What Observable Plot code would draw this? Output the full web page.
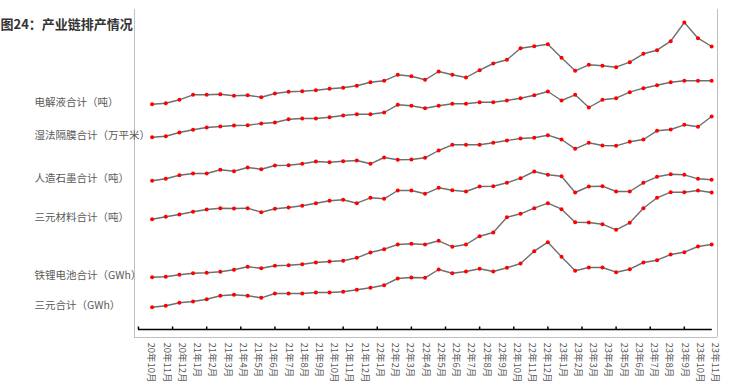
<!DOCTYPE html>
<html>
<head>
<meta charset="utf-8">
<script src="https://cdn.jsdelivr.net/npm/d3@7"></script>
<script src="https://cdn.jsdelivr.net/npm/@observablehq/plot@0.6"></script>
<style>
  body { margin: 0; background: #fff; }
  svg { display: block; }
</style>
</head>
<body>
<div id="chart"></div>
<script>
const title = "图24：产业链排产情况";

const monthLabels = [
  "20年10月","20年11月","20年12月","21年1月","21年2月","21年3月","21年4月","21年5月",
  "21年6月","21年7月","21年8月","21年9月","21年10月","21年11月","21年12月","22年1月",
  "22年2月","22年3月","22年4月","22年5月","22年6月","22年7月","22年8月","22年9月",
  "22年10月","22年11月","22年12月","23年1月","23年2月","23年3月","23年4月","23年5月",
  "23年6月","23年7月","23年8月","23年9月","23年10月","23年11月"
];

const seriesNames = [
  "电解液合计（吨）",
  "湿法隔膜合计（万平米）",
  "人造石墨合计（吨）",
  "三元材料合计（吨）",
  "铁锂电池合计（GWh）",
  "三元合计（GWh）"
];

// Relative (stacked, unitless) index levels
const electrolyte = [233.3,234.3,237.7,242.7,242.7,243.3,241.7,242.3,240.3,244,245.7,246.3,247.3,248.7,249.7,251.7,255.3,256.7,262.7,261.3,257.7,266,262.7,260,267.3,274,277.7,289.3,291.3,293.3,279.7,266.7,272.7,271.7,270.3,275.3,283.7,287.3,296.3,315,299.3,291];
const separator = [200.3,201.3,205,207.7,210,211,212,212.3,214,215,218.3,219,219,220.3,222,223.3,223.3,225,232.7,231.7,229.3,231.7,233.7,233.7,235.3,235.3,237,239.3,242.3,246,237,242.7,230,237.7,239.3,245.3,249.3,252.3,255.3,256.7,256.7,256.7];
const graphite = [156.7,158.7,162.3,164,164,167.7,166.3,170,168.3,172,172.3,173.7,176,175.3,176.3,177,173.7,180,177.7,178,179.7,187,192.7,192.7,192.7,194.7,197,199,199.7,202.3,198,188.7,194.7,192,191.7,195.7,198,206.7,208,212.7,210.7,221];
const ternaryMaterial = [118.3,120.7,123,125.7,128,129.3,129,129.3,125.3,128.7,130,131.7,134.3,136.7,137.7,134.3,139.7,138.7,147,147,143.7,149.7,147.3,146,151,151.3,154.7,159.3,166,162.7,161.3,145,151,151.3,146,146,154.7,160.7,163.3,162.7,158.7,157.7];
const lfpBattery = [60.3,60.7,62.7,64.3,64.7,65.7,67.7,70.7,69.3,71.7,72.3,73.3,75,76,76.7,79.7,85,88.3,93,93.7,93,96.7,90.7,93,101.3,105,120.3,123.7,129.3,134.3,128.3,115.3,115,113.3,107.7,114.7,129.3,139.7,145.3,145.3,147,145];
const ternaryBattery = [30.3,31.7,34.7,36,38.3,41.7,42.7,41.7,39.7,44,44,44,45,45,45.7,47.7,49.7,52.3,59,60,59.7,68,64.3,66,68.7,66,69.7,74,86.3,95.3,80.7,66.7,70,70,65.3,68.3,75,77.3,83,85.3,91,93];

const seriesValues = [electrolyte, separator, graphite, ternaryMaterial, lfpBattery, ternaryBattery];

const table = seriesValues.flatMap((vals, k) =>
  vals.map((v, i) => ({ series: seriesNames[k], i, v }))
);

const nPts = electrolyte.length;
const xDomain = [-1.29, nPts - 1 + 0.43];
const axisStart = -1, axisEnd = nPts - 1 + 0.05;
const axisLevel = 8;
const labelStart = -0.27, labelEnd = nPts - 1 + 0.03;
const labelStep = (labelEnd - labelStart) / (monthLabels.length - 1);
const tickStep = 2.5;
const tickPositions = d3.range(axisStart, axisEnd - 1, tickStep);

const chart = Plot.plot({
  width: 737,
  height: 390,
  marginLeft: 134,
  marginRight: 20,
  marginTop: 9,
  marginBottom: 53,
  style: { fontFamily: "'Noto Sans CJK SC', 'Noto Sans', sans-serif", background: "#fff" },
  x: { domain: xDomain, axis: null },
  y: { domain: [0, 328], axis: null },
  marks: [
    Plot.ruleX(xDomain, { stroke: "#c0c0c0", strokeWidth: 1 }),
    Plot.ruleY([0], { stroke: "#c0c0c0", strokeWidth: 1 }),
    Plot.ruleY([axisLevel], { x1: () => axisStart, x2: () => axisEnd, stroke: "#000", strokeWidth: 1.3 }),
    Plot.ruleX(tickPositions, { y1: () => axisLevel, y2: () => axisLevel + 2.5, stroke: "#000", strokeWidth: 1.5 }),
    Plot.line(table, { x: "i", y: "v", z: "series", stroke: "#6f6f6f", strokeWidth: 1.4 }),
    Plot.dot(table, { x: "i", y: "v", r: 2, fill: "#ff0000", stroke: "none" }),
    Plot.text(monthLabels, {
      x: (d, j) => labelStart + j * labelStep,
      text: d => d,
      frameAnchor: "bottom",
      dy: 5,
      rotate: 90,
      textAnchor: "start",
      fontSize: 9.5,
      fill: "#595959"
    }),
    Plot.text(seriesNames, {
      y: (d, k) => seriesValues[k][0],
      text: d => d,
      frameAnchor: "left",
      dx: -100,
      dy: -2,
      textAnchor: "start",
      fontSize: 10.5,
      fill: "#595959"
    }),
    Plot.text([title], {
      text: d => d,
      frameAnchor: "top-left",
      dx: -134,
      dy: 10,
      textAnchor: "start",
      fontWeight: "bold",
      fontSize: 13,
      fill: "#333"
    })
  ]
});

document.getElementById("chart").appendChild(chart);
</script>
</body>
</html>
